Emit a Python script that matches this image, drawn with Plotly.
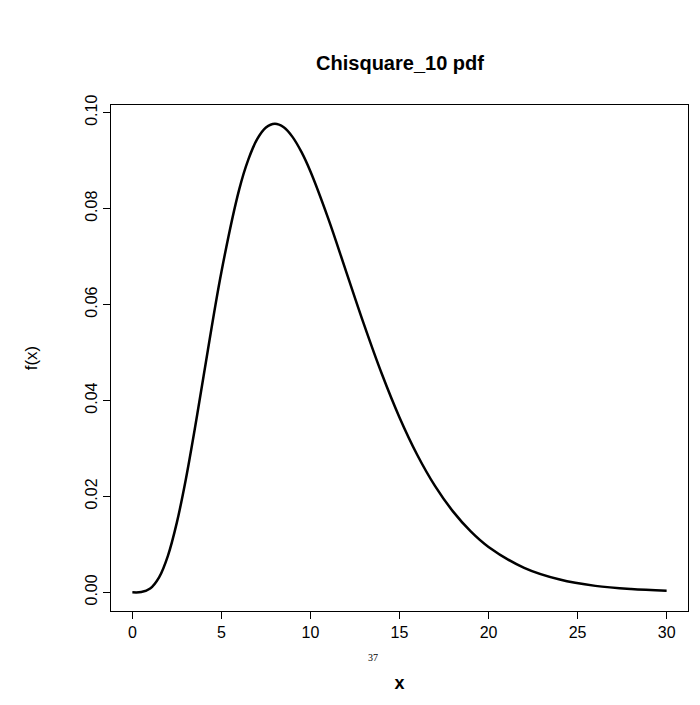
import plotly.graph_objects as go

# values
x_vals = [0, 0.5, 1, 1.5, 2, 2.5, 3, 3.5, 4, 5, 6, 6.5, 7, 7.5, 8, 8.5, 9, 9.5, 10, 11, 12,
          13, 14, 15, 16, 17, 18, 19, 20, 22, 24, 26, 28, 30]
fx_vals = [0.0, 0.00006, 0.00079, 0.00311, 0.00766, 0.01457, 0.02353, 0.03396, 0.04511,
           0.06680, 0.08402, 0.09012, 0.09441, 0.09689, 0.09768, 0.09695, 0.09490, 0.09176,
           0.08773, 0.07791, 0.06693, 0.05591, 0.04561, 0.03646, 0.02863, 0.02213, 0.01687,
           0.01270, 0.00946, 0.00509, 0.00265, 0.00134, 0.00067, 0.00032]
x_ticks = [0, 5, 10, 15, 20, 25, 30]
y_ticks = [0.0, 0.02, 0.04, 0.06, 0.08, 0.10]
y_labels = ["0.00", "0.02", "0.04", "0.06", "0.08", "0.10"]

fig = go.Figure()
fig.add_trace(go.Scatter(x=x_vals, y=fx_vals, mode="lines", line_shape="spline",
                         line=dict(color="black", width=2.5), showlegend=False))

axis_style = dict(showline=True, linecolor="black", linewidth=1, mirror=True,
                  ticks="outside", ticklen=7, tickcolor="black", showgrid=False,
                  zeroline=False, automargin=False, tickfont=dict(size=16, color="black"))
fig.update_xaxes(range=[-1.2, 31.2], tickvals=x_ticks,
                 title=dict(text="<b>x</b>", font=dict(size=18, color="black"), standoff=36),
                 **axis_style)
fig.update_yaxes(range=[-0.0039, 0.1016], tickvals=y_ticks, ticktext=y_labels, tickangle=-90,
                 title=dict(text="f(x)", font=dict(size=17, color="black"), standoff=40),
                 **axis_style)
fig.update_layout(
    width=700, height=705, plot_bgcolor="white", paper_bgcolor="white",
    font=dict(family="Liberation Sans, Arial, sans-serif"),
    margin=dict(l=103, r=20, t=97, b=102, autoexpand=False),
    title=dict(text="<b>Chisquare_10 pdf</b>", x=0.56, xanchor="center", y=0.932,
               font=dict(size=20, color="black")),
    annotations=[dict(text="37", x=(365 - 103) / 577, y=(603 - 657) / 506,
                      xref="paper", yref="paper", showarrow=False,
                      font=dict(family="Liberation Serif", size=10, color="black"))],
)
fig.write_html("out.html")
